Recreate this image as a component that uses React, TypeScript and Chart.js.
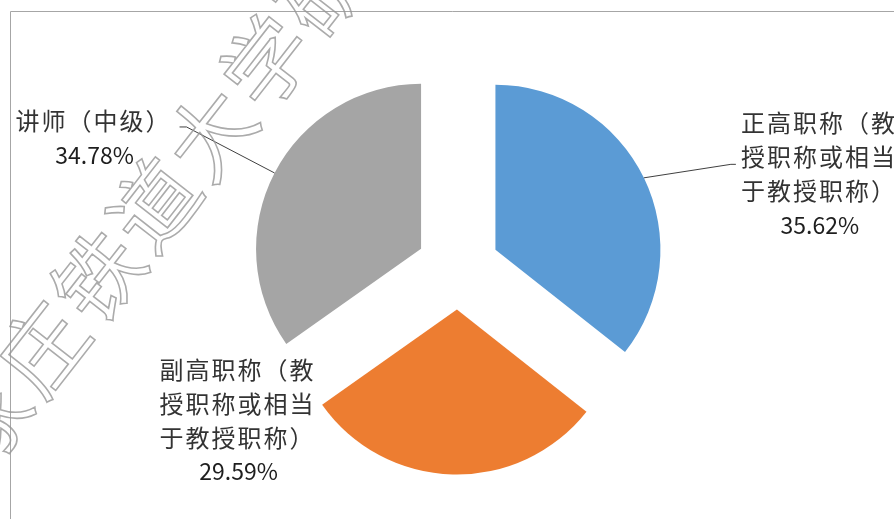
import React, { useEffect, useRef } from "react";
import { Chart, registerables } from "chart.js";

Chart.register(...registerables);

// ---- data ----
const categories = [
  "正高职称（教授职称或相当于教授职称）",
  "副高职称（教授职称或相当于教授职称）",
  "讲师（中级）",
];
const shares = [35.62, 29.59, 34.78];
const shareLabels = ["35.62%", "29.59%", "34.78%"];
const sliceColors = ["#5B9BD5", "#ED7D31", "#A5A5A5"];
const watermarkChars = ["石", "家", "庄", "铁", "道", "大", "学", "研", "究"];

// ---- layout / style ----
const EXPLODE = 41.6;
const RADIUS = 165;
const CHARS_PER_LINE = 6;
const LINE_H = 34;
// label block centre relative to the slice's mid-edge point
const LABEL_OFFSETS: number[][] = [
  [174, -4],
  [-216, -54],
  [-182, -35],
];
// leader start relative to label block centre, plus horizontal elbow length
const LEADERS: (number[] | null)[] = [[-82, -9.5, -5], null, [87, -11, 7]];

const CJK_FONT = '24px "Noto Sans CJK SC", "Noto Sans", sans-serif';
const NUM_FONT = '23px "Noto Sans CJK SC", "Noto Sans", sans-serif';

function splitLines(s: string): string[] {
  const out: string[] = [];
  const chars = Array.from(s);
  for (let i = 0; i < chars.length; i += CHARS_PER_LINE) {
    out.push(chars.slice(i, i + CHARS_PER_LINE).join(""));
  }
  return out;
}

const explodePlugin = {
  id: "explode",
  afterDatasetsUpdate(chart: any) {
    const meta = chart.getDatasetMeta(0);
    meta.data.forEach((arc: any) => {
      const mid = (arc.startAngle + arc.endAngle) / 2;
      arc.x += Math.cos(mid) * EXPLODE;
      arc.y += Math.sin(mid) * EXPLODE;
    });
  },
};

const framePlugin = {
  id: "frame",
  beforeDraw(chart: any) {
    const ctx = chart.ctx;
    ctx.save();
    ctx.fillStyle = "#ffffff";
    ctx.fillRect(0, 0, chart.width, chart.height);
    ctx.strokeStyle = "#a6a6a6";
    ctx.lineWidth = 1;
    ctx.beginPath();
    ctx.moveTo(10.5, chart.height);
    ctx.lineTo(10.5, 11.5);
    ctx.lineTo(chart.width, 11.5);
    ctx.stroke();
    ctx.restore();
  },
};

const labelPlugin = {
  id: "sliceLabels",
  afterDatasetsDraw(chart: any) {
    const ctx = chart.ctx;
    const meta = chart.getDatasetMeta(0);
    meta.data.forEach((arc: any, i: number) => {
      const mid = (arc.startAngle + arc.endAngle) / 2;
      const ex = arc.x + Math.cos(mid) * arc.outerRadius;
      const ey = arc.y + Math.sin(mid) * arc.outerRadius;
      const cx = ex + LABEL_OFFSETS[i][0];
      const cy = ey + LABEL_OFFSETS[i][1];
      const lines = splitLines(categories[i]);
      const n = lines.length + 1;
      const top = cy - ((n - 1) * LINE_H) / 2;
      ctx.save();
      ctx.fillStyle = "#333333";
      ctx.textAlign = "center";
      ctx.textBaseline = "middle";
      ctx.font = CJK_FONT;
      (ctx as any).letterSpacing = "2px";
      lines.forEach((ln, k) => {
        ctx.fillText(ln, cx + 1, top + k * LINE_H);
      });
      (ctx as any).letterSpacing = "0px";
      ctx.font = NUM_FONT;
      ctx.fillStyle = "#1e1e1e";
      ctx.fillText(shareLabels[i], cx + 2, top + lines.length * LINE_H);
      const ld = LEADERS[i];
      if (ld) {
        const sx = cx + ld[0];
        const sy = cy + ld[1];
        ctx.strokeStyle = "#404040";
        ctx.lineWidth = 1;
        ctx.beginPath();
        ctx.moveTo(sx, sy);
        ctx.lineTo(sx + ld[2], sy);
        ctx.lineTo(ex, ey);
        ctx.stroke();
      }
      ctx.restore();
    });
  },
  afterDraw(chart: any) {
    // watermark
    const ctx = chart.ctx;
    const ang = (-52 * Math.PI) / 180;
    const step = 91;
    const baseX = 42;
    const baseY = 348;
    ctx.save();
    ctx.font = '86px "Noto Sans CJK SC", sans-serif';
    ctx.textAlign = "center";
    ctx.textBaseline = "middle";
    ctx.strokeStyle = "rgba(150,150,150,0.8)";
    ctx.lineWidth = 1.6;
    watermarkChars.forEach((ch, k) => {
      const d = (k - 2) * step;
      const x = baseX + Math.cos(ang) * d;
      const y = baseY + Math.sin(ang) * d;
      ctx.save();
      ctx.translate(x, y);
      ctx.rotate(ang);
      ctx.strokeText(ch, 0, 0);
      ctx.restore();
    });
    ctx.restore();
  },
};

export default function App() {
  const ref = useRef<HTMLCanvasElement | null>(null);
  useEffect(() => {
    if (!ref.current) return;
    const chart = new Chart(ref.current, {
      type: "pie",
      data: {
        labels: categories,
        datasets: [
          {
            data: shares,
            backgroundColor: sliceColors,
            borderWidth: 0,
            hoverOffset: 0,
          },
        ],
      },
      options: {
        animation: false,
        responsive: true,
        maintainAspectRatio: false,
        radius: RADIUS,
        layout: { padding: { left: 22, top: 17, right: 0, bottom: 0 } },
        plugins: {
          legend: { display: false },
          tooltip: { enabled: false },
        },
        events: [],
      } as any,
      plugins: [framePlugin, explodePlugin, labelPlugin],
    });
    return () => chart.destroy();
  }, []);
  return (
    <div style={{ position: "absolute", left: 0, top: 0, width: 894, height: 519 }}>
      <canvas ref={ref} />
    </div>
  );
}
